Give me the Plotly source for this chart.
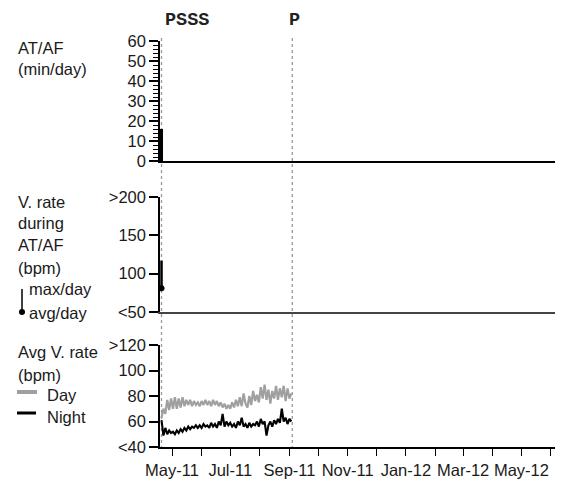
import pandas as pd
import plotly.graph_objects as go
from plotly.subplots import make_subplots

# ---------------- data ----------------
series_start = "2011-04-20"
day_rate = [63,
            70, 66, 77, 69, 78,
            70, 79, 70, 78, 71, 79, 72, 77, 73, 77, 72, 76, 73, 75, 72,
            76, 73, 77, 73, 76, 72, 77, 73, 76, 72, 75, 71, 74, 70, 73,
            70, 75, 71, 77, 72, 79, 72, 82, 74, 71, 80, 73, 84, 76, 81, 75,
            87, 78, 89, 77, 85, 74, 84, 78, 88, 77, 86, 79, 88, 76, 86,
            78, 82]
night_rate = [61, 49, 55, 50, 53, 51,
              52, 50, 53, 51, 54, 52, 55, 53, 56, 54, 56, 55, 57, 55, 57,
              55, 58, 56, 57, 55, 59, 56, 58, 55, 60, 57, 66, 56, 60, 57,
              59, 56, 58, 55, 60, 57, 63, 56, 58, 55, 59, 56, 58, 57, 60, 56,
              62, 58, 60, 49, 57, 60, 56, 61, 58, 62, 59, 70, 60, 63, 58,
              62, 60]
dates = pd.date_range(series_start, periods=len(day_rate), freq="2D")

af_dates = ["2011-04-20"]
af_minutes = [16]
vr_avg = [81]
vr_max = [117]

event_dates = ["2011-04-20", "2011-09-04"]
event_labels = ["PSSS", "P"]

month_ticks = pd.date_range("2011-05-01", "2012-06-01", freq="MS")
month_labels = [d.strftime("%b-%y") if i % 2 == 0 else "" for i, d in enumerate(month_ticks)]

x_range = ["2011-04-18 10:00", "2012-06-13 14:00"]

# ---------------- geometry helpers (page has an 8px body margin) ----------------
OFF = 8
W, H = 563 - OFF, 480 - OFF
L, R, T, B = 160 - OFF, 0, 41 - OFF, 33
PW, PH = W - L - R, H - T - B


def px(xp):  # reference-window pixel -> paper x
    return (xp - 160) / PW


def py(yp):  # reference-window pixel -> paper y
    return (447 - yp) / PH


FONT = "Arial, Liberation Sans, sans-serif"
TXT = "#1a1a1a"
FS = 16.5

fig = make_subplots(rows=3, cols=1)

fig.add_trace(go.Bar(x=af_dates, y=af_minutes, width=3 * 86400000,
                     marker=dict(color="black", line=dict(width=0)),
                     showlegend=False), row=1, col=1)

fig.add_trace(go.Scatter(x=af_dates, y=vr_avg, mode="markers",
                         marker=dict(color="black", size=6),
                         error_y=dict(type="data", symmetric=False,
                                      array=[m - a for m, a in zip(vr_max, vr_avg)],
                                      arrayminus=[0], width=0, thickness=2.5, color="black"),
                         showlegend=False), row=2, col=1)

fig.add_trace(go.Scatter(x=dates, y=day_rate, mode="lines",
                         line=dict(color="#a0a0a0", width=2.2), showlegend=False), row=3, col=1)
fig.add_trace(go.Scatter(x=dates, y=night_rate, mode="lines",
                         line=dict(color="black", width=2.1), showlegend=False), row=3, col=1)

domains = [(py(161), 1.0), (py(312), py(197)), (0.0, py(345))]
yspecs = [
    dict(range=[0, 60], tickvals=[0, 10, 20, 30, 40, 50, 60],
         minor=dict(ticks="outside", dtick=2, ticklen=5, tickwidth=1, tickcolor="black")),
    dict(range=[50, 200], tickvals=[50, 100, 150, 200], ticktext=["<50", "100", "150", ">200"]),
    dict(range=[40, 120], tickvals=[40, 60, 80, 100, 120],
         ticktext=["<40", "60", "80", "100", ">120"]),
]

for i in range(3):
    sfx = "" if i == 0 else str(i + 1)
    xa = dict(range=x_range, type="date", showgrid=False, zeroline=False,
              showline=True, linecolor="black", linewidth=1.5, automargin=False,
              domain=[0, 1], anchor="y" + sfx)
    if i < 2:
        xa.update(showticklabels=False, ticks="")
        if i == 1:
            xa["linecolor"] = "#444"
    else:
        xa.update(tickvals=month_ticks, ticktext=month_labels, ticks="outside",
                  ticklen=7, tickwidth=1, tickcolor="black",
                  tickfont=dict(family=FONT, size=FS, color=TXT))
    ya = dict(domain=list(domains[i]), anchor="x" + sfx, ticks="outside", ticklen=9,
              tickwidth=1.5, tickcolor="black", showline=True, linecolor="black",
              linewidth=1.5, showgrid=False, zeroline=False, automargin=False,
              tickfont=dict(family=FONT, size=FS, color=TXT))
    ya.update(yspecs[i])
    fig.layout["xaxis" + sfx] = xa
    fig.layout["yaxis" + sfx] = ya

shapes = []
for d in event_dates:
    shapes.append(dict(type="line", xref="x", yref="paper", x0=d, x1=d,
                       y0=py(449), y1=py(36),
                       line=dict(color="#999", width=1.3, dash="dot"), layer="below"))
# legend glyphs in the left margin
shapes.append(dict(type="line", xref="paper", yref="paper", x0=px(22), x1=px(22),
                   y0=py(312), y1=py(289), line=dict(color="black", width=1.5)))
shapes.append(dict(type="circle", xref="paper", yref="paper", x0=px(19), x1=px(25),
                   y0=py(315), y1=py(309), fillcolor="black", line=dict(color="black", width=0)))
shapes.append(dict(type="line", xref="paper", yref="paper", x0=px(17), x1=px(37),
                   y0=py(392), y1=py(392), line=dict(color="#a0a0a0", width=4)))
shapes.append(dict(type="line", xref="paper", yref="paper", x0=px(17), x1=px(36),
                   y0=py(413), y1=py(413), line=dict(color="black", width=3)))

annotations = []


def label(text, xp, yp, size=FS, family=FONT, color=TXT, anchor="left"):
    annotations.append(dict(text=text, xref="paper", yref="paper", x=px(xp), y=py(yp),
                            xanchor=anchor, yanchor="middle", showarrow=False,
                            font=dict(family=family, size=size, color=color)))


label("AT/AF", 16, 48)
label("(min/day)", 16, 69)
label("V. rate", 16, 202)
label("during", 16, 223)
label("AT/AF", 16, 245)
label("(bpm)", 16, 268)
label("max/day", 27, 289)
label("avg/day", 27, 313)
label("Avg V. rate", 16, 352)
label("(bpm)", 16, 375)
label("Day", 45, 395)
label("Night", 45, 417)

for t, cx in zip(event_labels, [187, 294]):
    label("<b>" + t + "</b>", cx, 20, size=18.5,
          family="Liberation Mono, Courier New, monospace", color="#222", anchor="center")

fig.update_layout(width=W, height=H, margin=dict(l=L, r=R, t=T, b=B, autoexpand=False),
                  paper_bgcolor="white", plot_bgcolor="white",
                  shapes=shapes, annotations=annotations, showlegend=False, bargap=0)

fig.write_html("out.html")
